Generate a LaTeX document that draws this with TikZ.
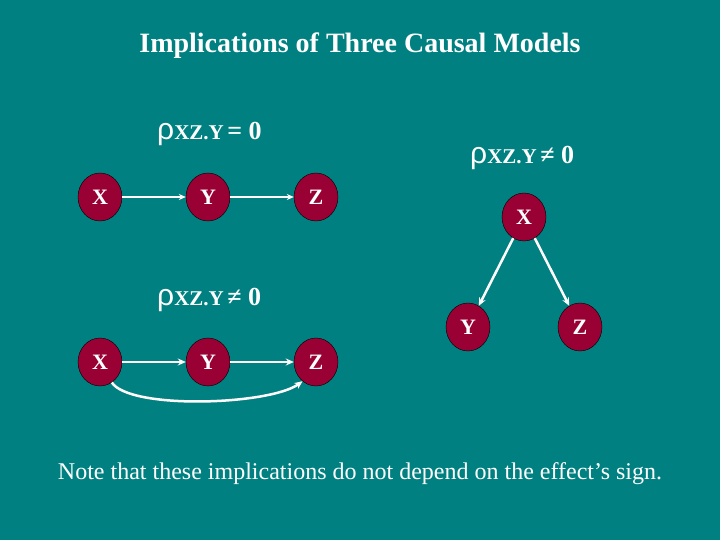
\documentclass[tikz,border=0pt]{standalone}
\usepackage{fontspec}
\setmainfont{Liberation Serif}
\newfontfamily\rhofont{Liberation Sans}
\usetikzlibrary{arrows.meta,shapes.geometric}
\definecolor{bg}{HTML}{008080}
\definecolor{nodered}{HTML}{990033}
\begin{document}
\begin{tikzpicture}[x=1pt,y=-1pt,
  vnode/.style={ellipse,draw=black,fill=nodered,minimum width=44pt,minimum height=48pt,inner sep=0pt,text=white,font=\bfseries\fontsize{22}{22}\selectfont},
  thin arr/.style={draw=white,line width=1.5pt,-{Stealth[length=7pt,width=6pt]}},
  thick arr/.style={draw=white,line width=2.5pt,-{Stealth[length=8pt,width=7pt]}},
  lbl/.style={text=white,inner sep=0pt,anchor=base west}]
\fill[bg] (0,0) rectangle (720,540);
\useasboundingbox (0,0) rectangle (720,540);
\node[text=white,font=\bfseries\fontsize{28}{28}\selectfont] (title) at (360,46) {Implications of Three Causal Models};
\newcommand{\rholabel}[1]{{\rhofont\fontsize{30}{30}\selectfont ρ}{\bfseries\fontsize{21}{21}\selectfont XZ.Y\,}{\bfseries\fontsize{26}{26}\selectfont #1}}
\node[lbl] (l1) at (157,140) {\rholabel{= 0}};
\node[lbl] (l2) at (470,164) {\rholabel{≠ 0}};
\node[lbl] (l3) at (157,305) {\rholabel{≠ 0}};
% row 1
\node[vnode] (x1) at (100,197) {X};
\node[vnode] (y1) at (208,197) {Y};
\node[vnode] (z1) at (316,197) {Z};
\draw[thin arr] (x1) -- (y1);
\draw[thin arr] (y1) -- (z1);
% row 2
\node[vnode] (x2) at (100,362) {X};
\node[vnode] (y2) at (208,362) {Y};
\node[vnode] (z2) at (316,362) {Z};
\draw[thick arr] (x2) -- (y2);
\draw[thick arr] (y2) -- (z2);
\draw[thick arr] (x2.-60) .. controls (130,410) and (270,405) .. (z2.-125);
% triangle
\node[vnode] (x3) at (524,217) {X};
\node[vnode] (y3) at (468,327) {Y};
\node[vnode] (z3) at (580,327) {Z};
\draw[thick arr] (x3) -- (y3);
\draw[thick arr] (x3) -- (z3);
\node[text=white,font=\fontsize{24}{24}\selectfont] (note) at (360,474) {Note that these implications do not depend on the effect’s sign.};
\end{tikzpicture}
\end{document}
